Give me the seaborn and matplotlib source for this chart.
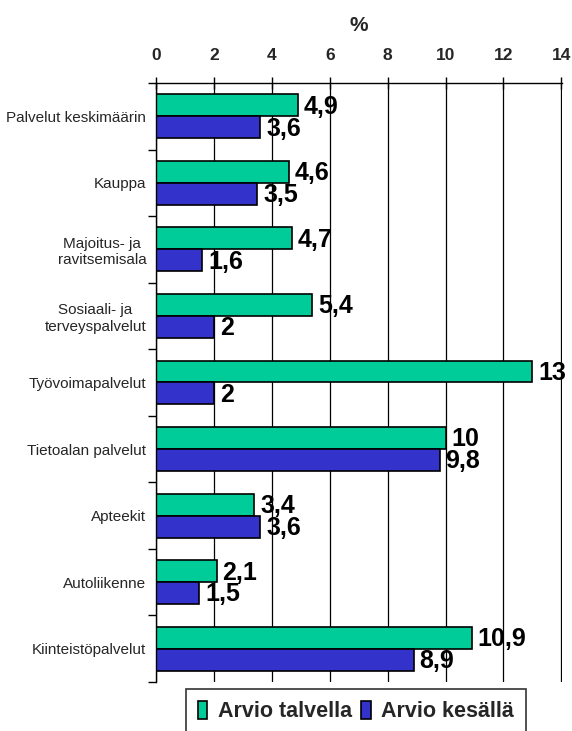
import pandas as pd
import numpy as np
import matplotlib
matplotlib.use("Agg")
import matplotlib.pyplot as plt
import seaborn as sns

# data
categories = ["Palvelut keskimäärin", "Kauppa", "Majoitus- ja\nravitsemisala",
              "Sosiaali- ja\nterveyspalvelut", "Työvoimapalvelut", "Tietoalan palvelut",
              "Apteekit", "Autoliikenne", "Kiinteistöpalvelut"]
series = ["Arvio talvella", "Arvio kesällä"]
talvella = [4.9, 4.6, 4.7, 5.4, 13, 10, 3.4, 2.1, 10.9]
kesalla = [3.6, 3.5, 1.6, 2, 2, 9.8, 3.6, 1.5, 8.9]
x_ticks = [0, 2, 4, 6, 8, 10, 12, 14]

colors = ["#00CC99", "#3333CC"]

df = pd.DataFrame({
    "kategoria": categories * 2,
    "sarja": [series[0]] * len(categories) + [series[1]] * len(categories),
    "arvo": talvella + kesalla,
})

sns.set_theme(style="white")
plt.rcParams["font.family"] = ["Liberation Sans", "DejaVu Sans"]

fig = plt.figure(figsize=(5.72, 7.31), dpi=100)
ax = fig.add_axes([0.2727, 0.067, 0.7098, 0.8195])

sns.barplot(data=df, y="kategoria", x="arvo", hue="sarja", order=categories,
            hue_order=series, palette=colors, saturation=1, orient="h", width=0.66,
            edgecolor="black", linewidth=1.2, ax=ax, legend=True)

# value labels
def fmt(v):
    if float(v).is_integer():
        return str(int(v))
    return f"{v:.1f}".replace(".", ",")

for cont in ax.containers:
    for bar in cont:
        w = bar.get_width()
        yc = bar.get_y() + bar.get_height() / 2
        ax.text(w + 0.2, yc + 0.02, fmt(w), va="center", ha="left",
                fontsize=18, fontweight="bold", color="black", clip_on=False)

ax.set_xlim(0, 14.02)
ax.set_ylim(len(categories) - 0.5, -0.5)
ax.xaxis.tick_top()
ax.xaxis.set_label_position("top")
ax.set_xticks(x_ticks)
ax.set_xticklabels([str(t) for t in x_ticks], fontsize=12.5, fontweight="bold")
ax.set_xlabel("%", fontsize=15, fontweight="bold", labelpad=12)
ax.set_ylabel("")
ax.grid(axis="x", color="black", linewidth=0.9)
ax.set_axisbelow(True)

ax.tick_params(axis="x", top=True, bottom=False, direction="inout", length=9,
               width=1, color="black", pad=10)
ax.set_yticks(range(len(categories)))
ax.set_yticklabels(categories, fontsize=11, multialignment="center")
ax.set_yticks(np.arange(-0.5, len(categories), 1.0), minor=True)
ax.tick_params(axis="y", which="major", length=0, pad=7)
ax.tick_params(axis="y", which="minor", left=True, length=6, width=1, color="black")

for s in ["right", "bottom"]:
    ax.spines[s].set_visible(False)
for s in ["top", "left"]:
    ax.spines[s].set_color("black")
    ax.spines[s].set_linewidth(1)

ax.legend_.remove()
leg = fig.legend(loc="upper left", bbox_to_anchor=(0.325, 0.0575), ncol=2,
                 handles=ax.get_legend_handles_labels()[0],
                 labels=series, frameon=True, fancybox=False, edgecolor="black",
                 prop={"size": 15.5, "weight": "bold"}, handlelength=0.45,
                 handleheight=0.9, handletextpad=0.5, columnspacing=0.4,
                 borderpad=0.55, borderaxespad=0)
leg.get_frame().set_linewidth(1.2)

fig.savefig("out.png", dpi=100)
